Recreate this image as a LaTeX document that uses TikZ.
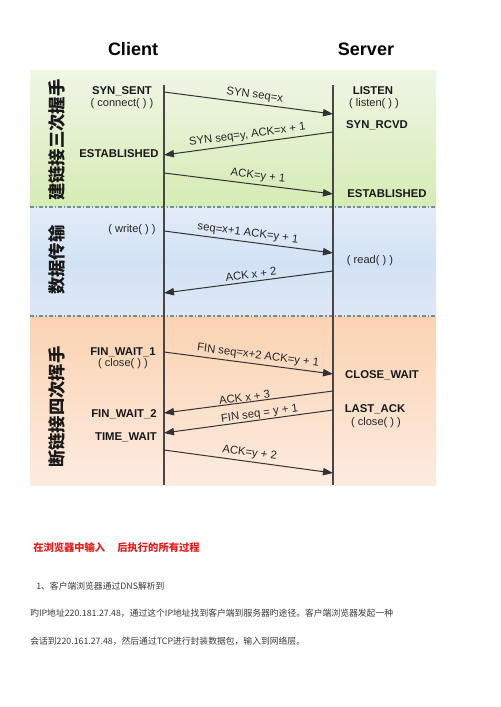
\documentclass[tikz,border=0pt]{standalone}
\usepackage{fontspec}
\setmainfont{Liberation Sans}
\newfontfamily\cjk{Noto Sans CJK SC}
\usetikzlibrary{arrows.meta}
\definecolor{gtop}{HTML}{EFF6E6}
\definecolor{gbot}{HTML}{D6EBB4}
\definecolor{btop}{HTML}{E4ECF8}
\definecolor{bmid}{HTML}{D2E2F5}
\definecolor{bbot}{HTML}{DEE8F6}
\definecolor{otop}{HTML}{FBD3B2}
\definecolor{obot}{HTML}{FDEBE0}
\definecolor{sepc}{HTML}{6E8E9A}
\definecolor{linec}{HTML}{333333}
\definecolor{bodytext}{HTML}{3A3A3A}
\definecolor{titlered}{HTML}{F01818}
\tikzset{
  state/.style={font=\bfseries\fontsize{8.5}{9}\selectfont, inner sep=0pt, text=black!90},
  callnote/.style={font=\fontsize{8.3}{9}\selectfont, inner sep=0pt, text=black!85},
  msg/.style={draw=linec, line width=0.75pt, -{Triangle[length=7.5pt,width=5.5pt]}},
  lbl/.style={font=\fontsize{8.5}{9}\selectfont, sloped, above, inner sep=2pt, text=black!85},
  lifeline/.style={draw=linec!90, line width=0.8pt},
  sep/.style={draw=sepc, line width=0.9pt, dash pattern=on 3pt off 1.5pt on 1pt off 1.5pt},
  phase/.style={rotate=90, font=\cjk\bfseries\fontsize{13}{13}\selectfont, inner sep=0pt, text=black!90},
  head/.style={font=\bfseries\fontsize{13.5}{14}\selectfont, inner sep=0pt},
  body/.style={font=\cjk\fontsize{6.6}{8}\selectfont, anchor=west, inner sep=0pt, text=bodytext}
}
\begin{document}
\begin{tikzpicture}[x=0.75pt,y=-0.75pt]
\useasboundingbox (0,0) rectangle (500,707);
\fill[white] (0,0) rectangle (500,707);
% background bands
\shade[top color=gtop, bottom color=gbot] (30,70) rectangle (436,207);
\shade[top color=btop, bottom color=bbot, middle color=bmid] (30,207) rectangle (436,316);
\shade[top color=otop, bottom color=obot] (30,316) rectangle (436,485);
\draw[sep] (30,207) -- (436,207);
\draw[sep] (30,316) -- (436,316);
% headings
\node[head] (client) at (133,49) {Client};
\node[head] (server) at (366,49) {Server};
% lifelines
\coordinate (ct) at (164,85);
\coordinate (cb) at (164,485);
\coordinate (st) at (333,85);
\coordinate (sb) at (333,485);
\draw[lifeline] (ct) -- (cb);
\draw[lifeline] (st) -- (sb);
% phase labels
\node[phase] (p1) at (57,140) {建链接三次握手};
\node[phase] (p2) at (57,260) {数据传输};
\node[phase] (p3) at (57,407) {断链接四次挥手};
% states - handshake
\node[state] (synsent) at (122,91) {SYN\_SENT};
\node[callnote] (connect) at (122,104) {( connect( ) )};
\node[state] (listen) at (373,91) {LISTEN};
\node[callnote] (listenc) at (374,104) {( listen( ) )};
\node[state] (synrcvd) at (377,125) {SYN\_RCVD};
\node[state] (estc) at (119,154) {ESTABLISHED};
\node[state] (ests) at (387,194) {ESTABLISHED};
% data
\node[callnote] (write) at (132,230) {( write( ) )};
\node[callnote] (read) at (370,261) {( read( ) )};
% teardown
\node[state] (fw1) at (123,352) {FIN\_WAIT\_1};
\node[callnote] (close1) at (123,364) {( close( ) )};
\node[state] (closewait) at (382,375) {CLOSE\_WAIT};
\node[state] (lastack) at (375,409) {LAST\_ACK};
\node[callnote] (close2) at (376,423) {( close( ) )};
\node[state] (fw2) at (124,414) {FIN\_WAIT\_2};
\node[state] (tw) at (126,437) {TIME\_WAIT};
% message endpoints
\coordinate (a1s) at (164,92);  \coordinate (a1e) at (333,114);
\coordinate (a2s) at (333,132); \coordinate (a2e) at (164,155);
\coordinate (a3s) at (164,173); \coordinate (a3e) at (333,194);
\coordinate (a4s) at (164,231); \coordinate (a4e) at (333,253);
\coordinate (a5s) at (333,271); \coordinate (a5e) at (164,293);
\coordinate (a6s) at (164,352); \coordinate (a6e) at (333,374);
\coordinate (a7s) at (333,391); \coordinate (a7e) at (164,413);
\coordinate (a8s) at (333,410); \coordinate (a8e) at (164,433);
\coordinate (a9s) at (164,450); \coordinate (a9e) at (333,473);
% messages
\draw[msg] (a1s) -- node[lbl, pos=0.53] (l1) {SYN seq=x} (a1e);
\draw[msg] (a2s) -- node[lbl, pos=0.5] (l2) {SYN seq=y, ACK=x + 1} (a2e);
\draw[msg] (a3s) -- node[lbl, pos=0.55] (l3) {ACK=y + 1} (a3e);
\draw[msg] (a4s) -- node[lbl, pos=0.49] (l4) {seq=x+1 ACK=y + 1} (a4e);
\draw[msg] (a5s) -- node[lbl, pos=0.48] (l5) {ACK x + 2} (a5e);
\draw[msg] (a6s) -- node[lbl, pos=0.55] (l6) {FIN seq=x+2 ACK=y + 1} (a6e);
\draw[msg] (a7s) -- node[lbl, pos=0.52, inner sep=0.3pt] (l7) {ACK x + 3} (a7e);
\draw[msg] (a8s) -- node[lbl, pos=0.43, inner sep=0.2pt] (l8) {FIN seq = y + 1} (a8e);
\draw[msg] (a9s) -- node[lbl, pos=0.5] (l9) {ACK=y + 2} (a9e);
% text below
\node[font=\cjk\bfseries\fontsize{7.7}{9}\selectfont, anchor=west, inner sep=0pt, text=titlered] (title) at (33,548) {在浏览器中输入\hspace{1.2em}后执行的所有过程};
\node[body] (line1) at (36,586) {1、客户端浏览器通过DNS解析到};
\node[body] (line2) at (30,613) {旳IP地址220.181.27.48，通过这个IP地址找到客户端到服务器旳途径。客户端浏览器发起一种};
\node[body] (line3) at (30,641) {会话到220.161.27.48，然后通过TCP进行封装数据包，输入到网络层。};
\end{tikzpicture}
\end{document}
